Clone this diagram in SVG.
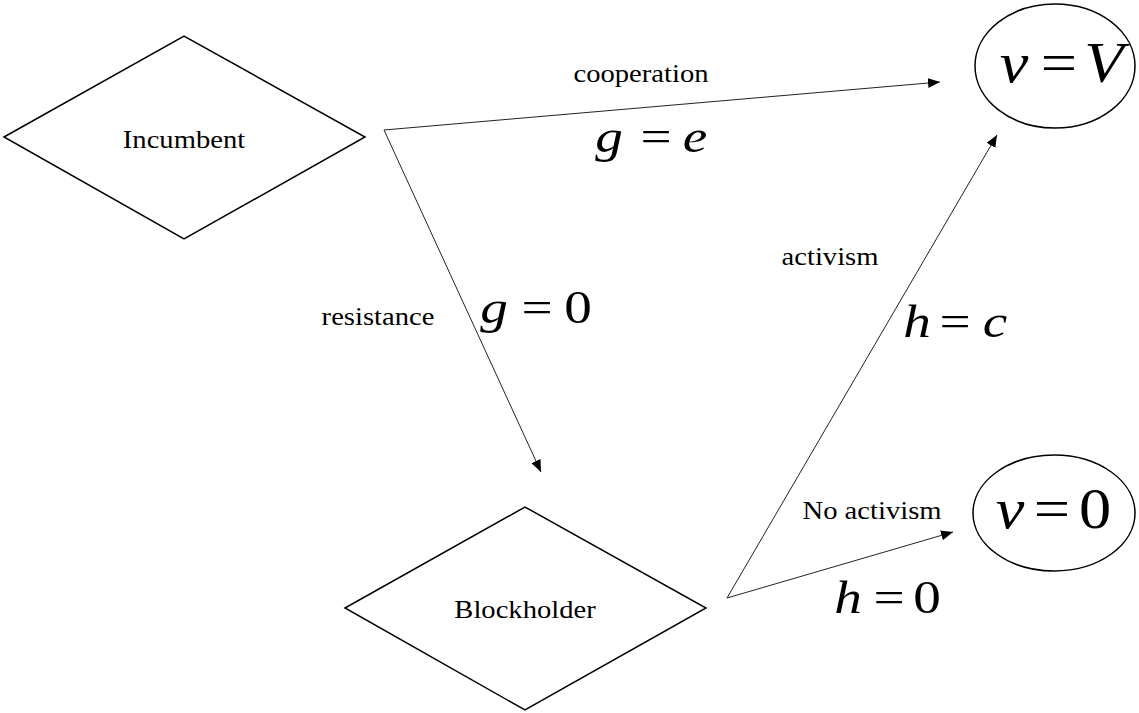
<svg xmlns="http://www.w3.org/2000/svg" width="1139" height="713" viewBox="0 0 1139 713">
<style>
.shape{fill:#fff;stroke:#000;stroke-width:1.5}
.lbl{font-family:'Liberation Serif','Times New Roman',Times,serif;font-size:26px;fill:#000;text-anchor:middle}
.m{font-family:'Liberation Serif','Times New Roman',Times,serif;font-size:46px;fill:#000;text-anchor:middle}
.big{font-size:56px}
.i{font-style:italic}
.edge{fill:none;stroke:#222;stroke-width:1}
</style>
<defs>
<marker id="ah" markerUnits="userSpaceOnUse" markerWidth="13" markerHeight="11" refX="12" refY="5" orient="auto">
<path d="M0,0 L12,5 L0,10 z" fill="#000"/>
</marker>
</defs>
<g id="connectors">
<line class="edge" x1="384" y1="130" x2="940" y2="82" marker-end="url(#ah)"/>
<line class="edge" x1="384" y1="130" x2="541" y2="472" marker-end="url(#ah)"/>
<line class="edge" x1="727" y1="598" x2="997" y2="135" marker-end="url(#ah)"/>
<line class="edge" x1="727" y1="598" x2="953" y2="532" marker-end="url(#ah)"/>
<text class="lbl" transform="translate(641,82) scale(1.1,1)">cooperation</text>
<text class="lbl" transform="translate(378,325) scale(1.1,1)">resistance</text>
<text class="lbl" transform="translate(830,265) scale(1.1,1)">activism</text>
<text class="lbl" transform="translate(872,519) scale(1.1,1)">No activism</text>
<g id="eq-g-e">
<text class="m i" transform="translate(609,152) scale(1.2,1)">g</text>
<text class="m" transform="translate(656,152) scale(1.2,1)">=</text>
<text class="m i" transform="translate(695,152) scale(1.2,1)">e</text>
</g>
<g id="eq-g-0">
<text class="m i" transform="translate(494,323) scale(1.2,1)">g</text>
<text class="m" transform="translate(537,323) scale(1.2,1)">=</text>
<text class="m" transform="translate(578,323) scale(1.2,1)">0</text>
</g>
<g id="eq-h-c">
<text class="m i" transform="translate(917,337) scale(1.2,1)">h</text>
<text class="m" transform="translate(955,337) scale(1.2,1)">=</text>
<text class="m i" transform="translate(995,337) scale(1.2,1)">c</text>
</g>
<g id="eq-h-0">
<text class="m i" transform="translate(848,613) scale(1.2,1)">h</text>
<text class="m" transform="translate(889,613) scale(1.2,1)">=</text>
<text class="m" transform="translate(927,613) scale(1.2,1)">0</text>
</g>
</g>
<g id="incumbent">
<polygon class="shape" points="4,137 184,36 365,137 184,239"/>
<text class="lbl" transform="translate(184,148) scale(1.1,1)">Incumbent</text>
</g>
<g id="blockholder">
<polygon class="shape" points="345,608 525,507 706,608 525,710"/>
<text class="lbl" transform="translate(525,618) scale(1.1,1)">Blockholder</text>
</g>
<g id="vV">
<ellipse class="shape" cx="1055" cy="66" rx="80" ry="62"/>
<text class="m big i" transform="translate(1014,82) scale(1.15,1)">v</text>
<text class="m big" transform="translate(1059,82) scale(1.15,1)">=</text>
<text class="m big i" transform="translate(1104,82) scale(1.15,1)">V</text>
</g>
<g id="v0">
<ellipse class="shape" cx="1054" cy="513" rx="81" ry="58"/>
<text class="m big i" transform="translate(1010,528) scale(1.15,1)">v</text>
<text class="m big" transform="translate(1052,528) scale(1.15,1)">=</text>
<text class="m big" transform="translate(1095,528) scale(1.15,1)">0</text>
</g>
</svg>
